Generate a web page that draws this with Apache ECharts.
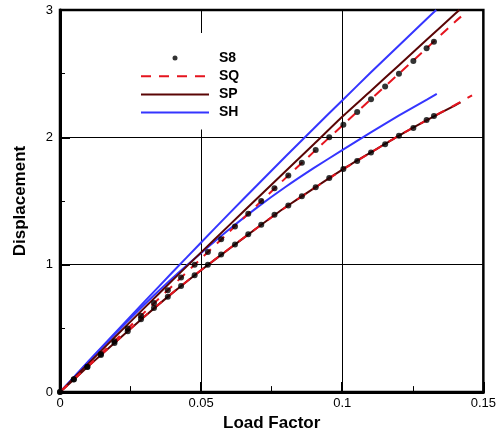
<!DOCTYPE html>
<html>
<head>
<meta charset="utf-8">
<script src="https://cdn.jsdelivr.net/npm/echarts@6/dist/echarts.min.js"></script>
<style>html,body{margin:0;padding:0;background:#fff}#c{width:499px;height:437px}</style>
</head>
<body>
<div id="c"></div>
<script>
// Tick labels
const xTicks = [0, 0.05, 0.1, 0.15];
const yTicks = [0, 1, 2, 3];
const legendNames = ['S8', 'SQ', 'SP', 'SH'];

// S8 reference points (load factor, displacement)
const loadS8 = [0, 0.0049, 0.0097, 0.0145, 0.0193, 0.0240, 0.0287, 0.0333, 0.0382, 0.0429, 0.0477, 0.0524, 0.0571, 0.0620, 0.0667, 0.0713, 0.0760, 0.0809, 0.0857, 0.0906, 0.0954, 0.1004, 0.1053, 0.1102, 0.1152, 0.1201, 0.1252, 0.1299, 0.1325];
const s8Upper = [0, 0.1, 0.2, 0.3, 0.4, 0.5, 0.6, 0.7, 0.8, 0.9, 1.0, 1.1, 1.2, 1.3, 1.4, 1.5, 1.6, 1.7, 1.8, 1.9, 2.0, 2.1, 2.2, 2.3, 2.4, 2.5, 2.6, 2.7, 2.75];
const s8Lower = [0, 0.099, 0.197, 0.292, 0.386, 0.478, 0.571, 0.661, 0.749, 0.834, 0.918, 1.0, 1.08, 1.159, 1.239, 1.313, 1.393, 1.465, 1.537, 1.609, 1.681, 1.751, 1.815, 1.882, 1.946, 2.013, 2.074, 2.136, 2.167];

// SQ
const loadSQUpper = [0, 0.01, 0.02, 0.03, 0.04, 0.05, 0.06, 0.07, 0.08, 0.09, 0.10, 0.11, 0.12, 0.13, 0.14, 0.1421];
const sqUpper = [0, 0.206, 0.415, 0.628, 0.838, 1.049, 1.259, 1.472, 1.682, 1.888, 2.092, 2.296, 2.498, 2.702, 2.908, 2.948];
const loadSQLower = [0, 0.01, 0.02, 0.03, 0.04, 0.05, 0.06, 0.07, 0.08, 0.09, 0.10, 0.11, 0.12, 0.13, 0.14, 0.146];
const sqLower = [0, 0.203, 0.40, 0.596, 0.782, 0.958, 1.127, 1.292, 1.452, 1.599, 1.745, 1.879, 2.012, 2.136, 2.255, 2.33];

// SP
const loadSPUpper = [0, 0.01, 0.02, 0.03, 0.04, 0.05, 0.06, 0.07, 0.08, 0.09, 0.10, 0.11, 0.12, 0.13, 0.14, 0.1415];
const spUpper = [0, 0.223, 0.444, 0.663, 0.881, 1.097, 1.311, 1.524, 1.736, 1.948, 2.162, 2.362, 2.565, 2.768, 2.970, 3.0];
const loadSPLower = [0, 0.01, 0.02, 0.03, 0.04, 0.05, 0.06, 0.07, 0.08, 0.09, 0.10, 0.11, 0.12, 0.13, 0.14, 0.1419];
const spLower = [0, 0.202, 0.399, 0.594, 0.781, 0.957, 1.126, 1.292, 1.453, 1.601, 1.747, 1.880, 2.012, 2.135, 2.252, 2.275];

// SH
const loadSHUpper = [0, 0.01, 0.02, 0.03, 0.04, 0.05, 0.06, 0.07, 0.08, 0.09, 0.10, 0.11, 0.12, 0.13, 0.1333];
const shUpper = [0, 0.240, 0.477, 0.712, 0.945, 1.175, 1.403, 1.628, 1.852, 2.072, 2.290, 2.507, 2.720, 2.931, 3.0];
const loadSHLower = [0, 0.01, 0.02, 0.03, 0.04, 0.05, 0.06, 0.07, 0.08, 0.09, 0.10, 0.11, 0.12, 0.13, 0.1335];
const shLower = [0, 0.237, 0.468, 0.690, 0.898, 1.092, 1.278, 1.452, 1.612, 1.760, 1.900, 2.037, 2.170, 2.296, 2.342];

const zip = (xs, ys) => xs.map((x, i) => [x, ys[i]]);
const FONT = 'Liberation Sans, Arial, sans-serif';

const sqStyle = { color: '#e5141e', width: 2, type: [10, 8] };
const spStyle = { color: '#5a0505', width: 2 };
const shStyle = { color: '#3535ff', width: 2 };

function lineSeries(name, xs, ys, style) {
  return {
    name: name, type: 'line', data: zip(xs, ys), showSymbol: false, symbol: 'none',
    smooth: 0.2, lineStyle: style, itemStyle: { color: style.color }, z: 3
  };
}

const chart = echarts.init(document.getElementById('c'), null, { renderer: 'canvas' });
chart.setOption({
  animation: false,
  backgroundColor: '#fff',
  grid: { left: 60, right: 13, top: 10, bottom: 38, show: true, borderColor: '#000', borderWidth: 2.5, backgroundColor: 'transparent' },
  legend: {
    data: legendNames.map(n => n === 'S8' ? { name: n } : { name: n, itemStyle: { opacity: 0 } }),
    orient: 'vertical', left: 135, top: 33,
    padding: [18, 12, 10, 5],
    backgroundColor: '#fff',
    itemWidth: 68, itemHeight: 5, itemGap: 4.2,
    textStyle: { fontFamily: FONT, fontWeight: 'bold', fontSize: 14, color: '#000', padding: [0, 0, 0, 5] },
    z: 10
  },
  xAxis: {
    type: 'value', min: xTicks[0], max: xTicks[xTicks.length - 1], interval: 0.05,
    name: 'Load Factor', nameLocation: 'middle', nameGap: 21,
    nameTextStyle: { fontFamily: FONT, fontWeight: 'bold', fontSize: 17, color: '#000' },
    axisLine: { show: true, lineStyle: { color: '#000', width: 3 } },
    axisTick: { show: true, inside: true, length: 10, lineStyle: { color: '#000', width: 2 } },
    minorTick: { show: true, splitNumber: 2, length: 6, lineStyle: { color: '#000', width: 1 } },
    axisLabel: { fontFamily: FONT, fontSize: 13, color: '#000', margin: 5 },
    splitLine: { show: true, lineStyle: { color: '#000', width: 1 } }
  },
  yAxis: {
    type: 'value', min: yTicks[0], max: yTicks[yTicks.length - 1], interval: 1,
    name: 'Displacement', nameLocation: 'middle', nameGap: 31, nameRotate: 90,
    nameTextStyle: { fontFamily: FONT, fontWeight: 'bold', fontSize: 17, color: '#000' },
    axisLine: { show: true, lineStyle: { color: '#000', width: 3 } },
    axisTick: { show: true, inside: true, length: 10, lineStyle: { color: '#000', width: 2 } },
    minorTick: { show: true, splitNumber: 2, length: 5, lineStyle: { color: '#000', width: 1 } },
    axisLabel: { fontFamily: FONT, fontSize: 13, color: '#000', margin: 7 },
    splitLine: { show: true, lineStyle: { color: '#000', width: 1 } }
  },
  series: [
    lineSeries('SH', loadSHUpper, shUpper, shStyle),
    lineSeries('SH', loadSHLower, shLower, shStyle),
    lineSeries('SP', loadSPUpper, spUpper, spStyle),
    lineSeries('SP', loadSPLower, spLower, spStyle),
    lineSeries('SQ', loadSQUpper, sqUpper, sqStyle),
    lineSeries('SQ', loadSQLower, sqLower, sqStyle),
    { name: 'S8', type: 'scatter', data: zip(loadS8, s8Upper), symbol: 'circle', symbolSize: 6, itemStyle: { color: '#000' }, z: 4 },
    { name: 'S8', type: 'scatter', data: zip(loadS8, s8Lower), symbol: 'circle', symbolSize: 6, itemStyle: { color: '#000' }, z: 4 }
  ]
});
</script>
</body>
</html>
